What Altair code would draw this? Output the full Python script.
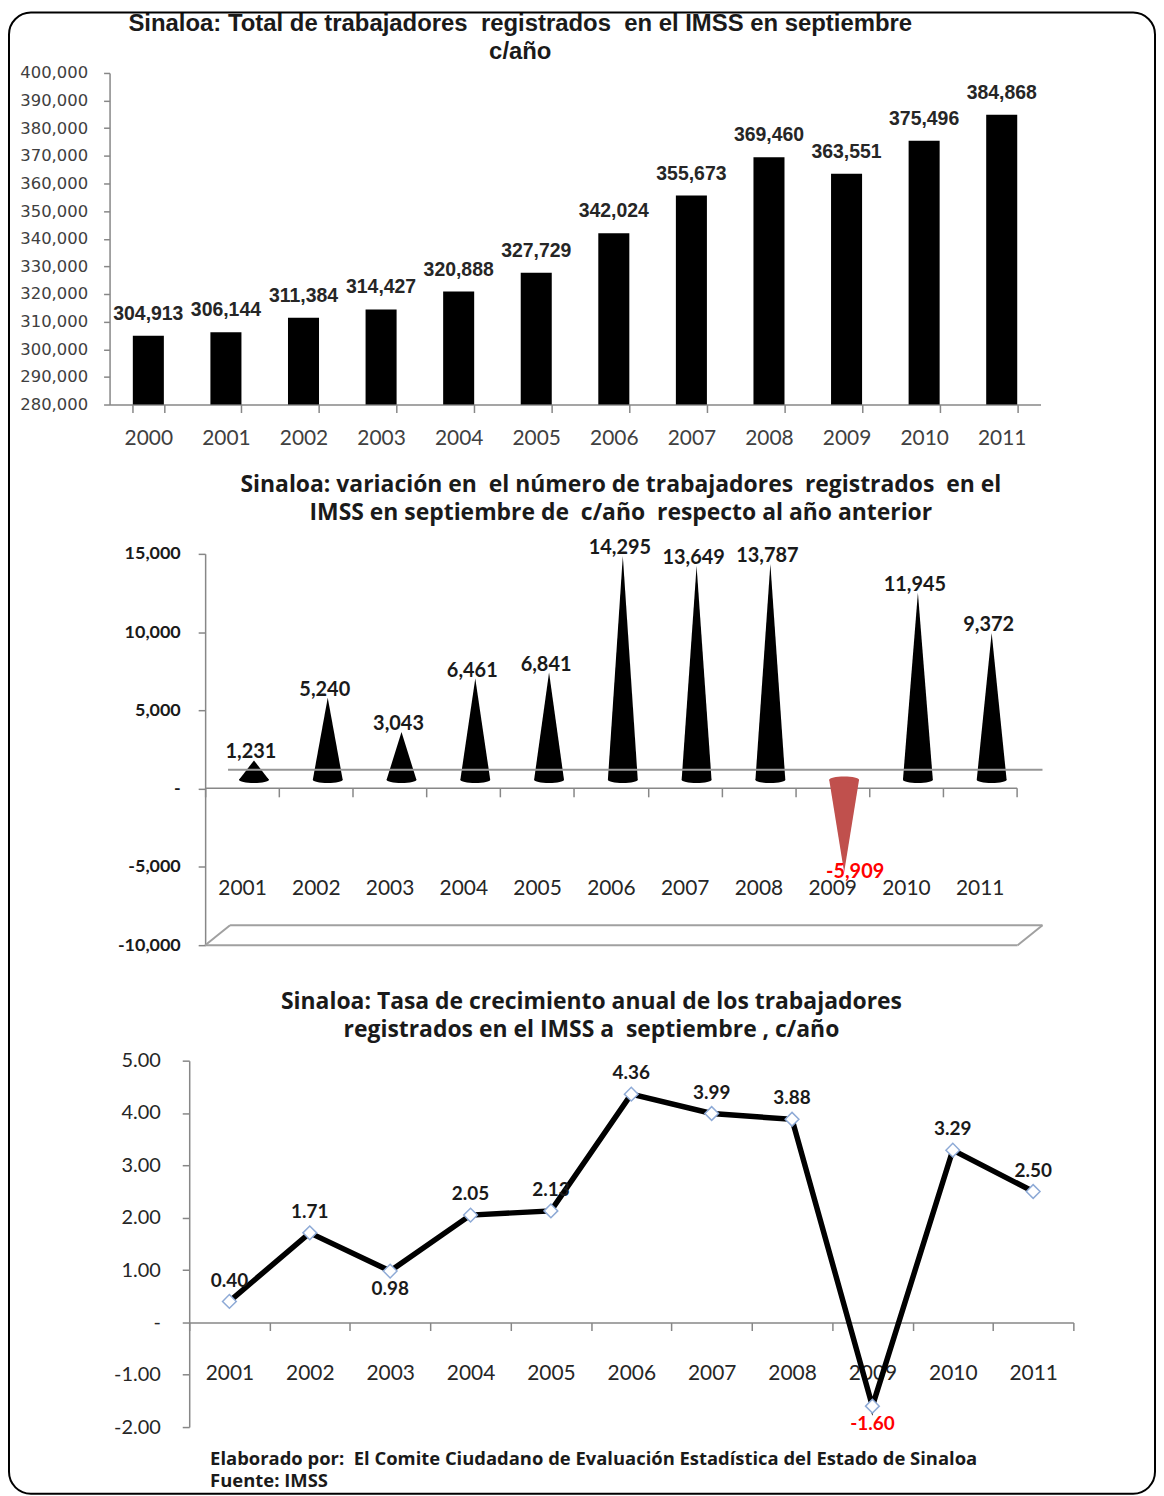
import altair as alt
import pandas as pd

# ---------------- data ----------------
years_total = ["2000", "2001", "2002", "2003", "2004", "2005",
               "2006", "2007", "2008", "2009", "2010", "2011"]
totals = [304913, 306144, 311384, 314427, 320888, 327729,
          342024, 355673, 369460, 363551, 375496, 384868]

years_var = ["2001", "2002", "2003", "2004", "2005", "2006",
             "2007", "2008", "2009", "2010", "2011"]
variation = [1231, 5240, 3043, 6461, 6841, 14295, 13649, 13787, -5909, 11945, 9372]

years_rate = ["2001", "2002", "2003", "2004", "2005", "2006",
              "2007", "2008", "2009", "2010", "2011"]
rates = [0.40, 1.71, 0.98, 2.05, 2.13, 4.36, 3.99, 3.88, -1.60, 3.29, 2.50]

NB = "\u00a0"
title1 = ["Sinaloa: Total de trabajadores " + NB + "registrados " + NB + "en el IMSS en septiembre", "c/año"]
title2 = ["Sinaloa: variación en " + NB + "el número de trabajadores " + NB + "registrados " + NB + "en el",
          "IMSS en septiembre de " + NB + "c/año " + NB + "respecto al año anterior"]
title3 = ["Sinaloa: Tasa de crecimiento anual de los trabajadores",
          "registrados en el IMSS a " + NB + "septiembre , c/año"]
footer1 = "Elaborado por: " + NB + "El Comite Ciudadano de Evaluación Estadística del Estado de Sinaloa"
footer2 = "Fuente: IMSS"

# ---------------- styling ----------------
GRAY = "#878787"
F_ARIAL = "Liberation Sans, Arial, sans-serif"
F_CAL = "Lato, Carlito, Calibri, sans-serif"
F_OPEN = "Open Sans, sans-serif"
F_VERD = "DejaVu Sans, Verdana, sans-serif"
ZERO_DASH = "datum.value == 0 ? '-\u2007' : replace(datum.label, '\u2212', '-')"
ELLIPSE = "M -1 0 A 1 0.22 0 1 0 1 0 A 1 0.22 0 1 0 -1 0 Z"
one = pd.DataFrame({"s": [0]})


def spacer(w, h):
    return alt.Chart(one).mark_point(opacity=0).properties(width=w, height=h)


# ---------------- panel 1 ----------------
W1, H1 = 935, 333
df1 = pd.DataFrame({"year": years_total, "total": totals})
df1["label"] = [f"{v:,}" for v in totals]

x1 = alt.X("year:N", title=None,
           scale=alt.Scale(type="band", paddingInner=0.6, paddingOuter=0.3),
           axis=alt.Axis(labelAngle=0, tickBand="extent", tickSize=8, tickColor=GRAY, tickWidth=1.5,
                         domainColor=GRAY, domainWidth=1.5, labelFont=F_CAL, labelFontSize=21,
                         labelColor="#404040", labelPadding=15))
y1 = alt.Y("total:Q", title=None,
           scale=alt.Scale(domain=[280000, 400000], nice=False, zero=False),
           axis=alt.Axis(values=list(range(280000, 400001, 10000)), format=",d", tickSize=6,
                         tickColor=GRAY, tickWidth=1.5, domainColor=GRAY, domainWidth=1.5,
                         labelFont=F_VERD, labelFontSize=16.5, labelColor="#404040", labelPadding=16))

bars1 = alt.Chart(df1).mark_bar(clip=True, color="#000000").encode(x=x1, y=y1)
lab1 = alt.Chart(df1).mark_text(baseline="bottom", dy=-12, font=F_ARIAL, fontSize=19.5,
                                fontWeight="bold", color="#262626").encode(x=x1, y=y1, text="label:N")
panel1 = alt.layer(bars1, lab1).properties(
    width=W1, height=H1,
    title=alt.TitleParams(text=title1, font=F_ARIAL, fontSize=24, fontWeight="bold", color="#1a1a1a",
                          anchor="middle", frame="group", dx=-55, offset=1, lineHeight=28))

# ---------------- panel 2 ----------------
W2, H2 = 911, 393
R2 = [96, 911]
df2 = pd.DataFrame({"year": years_var, "v": variation})
df2["label"] = [f"{v:,}" for v in variation]
df2["sign"] = ["neg" if v < 0 else "pos" for v in variation]
df2["pos"] = [i + 0.5 for i in range(len(years_var))]

cone_rows = []
for i, (yr, v) in enumerate(zip(years_var, variation)):
    for k in (-1, 0, 1):
        cone_rows.append({"year": yr, "pos": i + 0.5 + 0.2025 * k, "y": v if k == 0 else 0,
                          "base": 0, "sign": "neg" if v < 0 else "pos"})
cones = pd.DataFrame(cone_rows)

y2scale = alt.Scale(domain=[-10000, 15000], nice=False)
y2axis = alt.Axis(values=[-10000, -5000, 0, 5000, 10000, 15000], format=",d", labelExpr=ZERO_DASH,
                  offset=-96, tickSize=7, tickColor=GRAY, tickWidth=1.5, domainColor=GRAY,
                  domainWidth=1.5, labelFont=F_CAL, labelFontSize=18, labelFontWeight="bold",
                  labelColor="#1a1a1a", labelPadding=18)
x2 = alt.X("year:N", title=None,
           scale=alt.Scale(type="band", domain=years_var, range=R2, paddingInner=0, paddingOuter=0),
           axis=alt.Axis(labelAngle=0, tickBand="extent", offset=-158, tickSize=9, tickColor=GRAY,
                         tickWidth=1.5, domainColor=GRAY, domainWidth=1.5, labelFont=F_CAL,
                         labelFontSize=21, labelColor="#262626", labelPadding=81))

lab2p = alt.Chart(df2).transform_filter("datum.v >= 0").mark_text(
    baseline="middle", dx=9, dy=-17, font=F_CAL, fontSize=20, fontWeight="bold", color="#1a1a1a"
).encode(x=x2, y=alt.Y("v:Q", title=None, scale=y2scale, axis=y2axis), text="label:N")
lab2n = alt.Chart(df2).transform_filter("datum.v < 0").mark_text(
    baseline="middle", dx=23, dy=-9, font=F_CAL, fontSize=20, fontWeight="bold", color="#ff0000"
).encode(x=x2, y=alt.Y("v:Q", title=None, scale=y2scale, axis=y2axis), text="label:N")

RC = "#a0a0a0"
wall = alt.Chart(one).mark_rule(color="#969696", strokeWidth=2, yOffset=-19).encode(
    x=alt.value(R2[0] + 23), x2=alt.value(R2[1] + 26), y=alt.datum(0))
floor_front = alt.Chart(one).mark_rule(color=RC, strokeWidth=2).encode(
    x=alt.value(R2[0]), x2=alt.value(R2[1] + 1), y=alt.datum(-10000))
floor_back = alt.Chart(one).mark_rule(color=RC, strokeWidth=2, yOffset=-20).encode(
    x=alt.value(R2[0] + 25), x2=alt.value(R2[1] + 26), y=alt.datum(-10000))
floor_l = alt.Chart(one).mark_rule(color=RC, strokeWidth=2, y2Offset=-20).encode(
    x=alt.value(R2[0]), x2=alt.value(R2[0] + 25), y=alt.datum(-10000), y2=alt.datum(-10000))
floor_r = alt.Chart(one).mark_rule(color=RC, strokeWidth=2, y2Offset=-20).encode(
    x=alt.value(R2[1] + 1), x2=alt.value(R2[1] + 26), y=alt.datum(-10000), y2=alt.datum(-10000))

base2 = alt.layer(floor_front, floor_back, floor_l, floor_r, wall, lab2p, lab2n)

cone_x = alt.X("pos:Q", scale=alt.Scale(domain=[0, 11], range=R2, nice=False, zero=False), axis=None)
cone_color = alt.Color("sign:N", scale=alt.Scale(domain=["pos", "neg"], range=["#000000", "#c0504d"]),
                       legend=None)
cone = alt.Chart(cones).mark_area(orient="vertical", opacity=1, xOffset=12, yOffset=-9,
                                  y2Offset=-9).encode(
    x=cone_x,
    y=alt.Y("y:Q", title=None, scale=y2scale, axis=y2axis),
    y2="base:Q",
    detail="year:N",
    color=cone_color,
)
cone_base = alt.Chart(df2).mark_point(shape=ELLIPSE, filled=True, opacity=1, size=900,
                                      xOffset=12, yOffset=-9).encode(
    x=cone_x,
    y=alt.Y("zero:Q", title=None, scale=y2scale, axis=y2axis),
    color=cone_color,
).transform_calculate(zero="0")

panel2 = alt.layer(alt.layer(cone, cone_base), base2).resolve_scale(x="independent").properties(
    width=W2, height=H2,
    title=alt.TitleParams(text=title2, font=F_OPEN, fontSize=23, fontWeight="bold", color="#1a1a1a",
                          anchor="middle", frame="group", dx=58, offset=13, lineHeight=28))

# ---------------- panel 3 ----------------
W3, H3 = 968, 368
R3 = [80, 968]
df3 = pd.DataFrame({"year": years_rate, "r": rates})
df3["label"] = [f"{v:.2f}" for v in rates]
below = []
for i, v in enumerate(rates):
    interior = 0 < i < len(rates) - 1
    below.append(bool(interior and v < rates[i - 1] and v < rates[i + 1]))
df3["below"] = below
df3["neg"] = [v < 0 for v in rates]

x3 = alt.X("year:N", title=None,
           scale=alt.Scale(type="band", domain=years_rate, range=R3, paddingInner=0, paddingOuter=0),
           axis=alt.Axis(labelAngle=0, tickBand="extent", offset=-105, tickSize=8, tickColor=GRAY,
                         tickWidth=1.5, domainColor=GRAY, domainWidth=1.5, labelFont=F_CAL,
                         labelFontSize=21, labelColor="#262626", labelPadding=32))
y3 = alt.Y("r:Q", title=None, scale=alt.Scale(domain=[-2, 5], nice=False),
           axis=alt.Axis(values=[-2, -1, 0, 1, 2, 3, 4, 5], format=".2f", labelExpr=ZERO_DASH,
                         offset=-80, tickSize=7, tickColor=GRAY, tickWidth=1.5, domainColor=GRAY,
                         domainWidth=1.5, labelFont=F_CAL, labelFontSize=20, labelColor="#262626",
                         labelPadding=22))

line3 = alt.Chart(df3).mark_line(color="#000000", strokeWidth=5.5).encode(x=x3, y=y3)
pts3 = alt.Chart(df3).mark_point(shape="diamond", filled=True, fill="#ffffff", stroke="#8eaad6",
                                 strokeWidth=1.5, size=190, opacity=1).encode(x=x3, y=y3)
lab3a = alt.Chart(df3).transform_filter("!datum.below").mark_text(
    baseline="middle", dy=-21, font=F_CAL, fontSize=19, fontWeight="bold", color="#1a1a1a"
).encode(x=x3, y=y3, text="label:N")
lab3b = alt.Chart(df3).transform_filter("datum.below").mark_text(
    baseline="middle", dy=18, font=F_CAL, fontSize=19, fontWeight="bold"
).encode(x=x3, y=y3, text="label:N",
         color=alt.condition("datum.neg", alt.value("#ff0000"), alt.value("#1a1a1a")))
foot1 = alt.Chart(pd.DataFrame({"t": [footer1]})).mark_text(
    align="left", baseline="middle", font=F_OPEN, fontSize=18.5, fontWeight="bold", color="#1a1a1a"
).encode(x=alt.value(101), y=alt.value(400), text="t:N")
foot2 = alt.Chart(pd.DataFrame({"t": [footer2]})).mark_text(
    align="left", baseline="middle", font=F_OPEN, fontSize=18.5, fontWeight="bold", color="#1a1a1a"
).encode(x=alt.value(101), y=alt.value(422), text="t:N")

panel3 = alt.layer(line3, pts3, lab3a, lab3b, foot1, foot2).properties(
    width=W3, height=H3,
    title=alt.TitleParams(text=title3, font=F_OPEN, fontSize=23, fontWeight="bold", color="#1a1a1a",
                          anchor="middle", frame="group", dx=0, offset=9, lineHeight=28))

# ---------------- layout ----------------
border = alt.Chart(one).mark_rect(fill="#ffffff", fillOpacity=0, stroke="#000000", strokeWidth=2,
                                  cornerRadius=22).encode(
    x=alt.value(-101), x2=alt.value(1050), y=alt.value(-393.7), y2=alt.value(1094))
gap1 = alt.layer(spacer(1, 150), border).properties(width=1, height=150)
gap2 = spacer(1, 116)

chart = alt.vconcat(panel1, gap1, panel2, gap2, panel3, spacing=0, bounds="flush").properties(
    padding=0, background="#ffffff"
).configure_view(stroke=None).configure_axis(grid=False)

chart.save("out.html", embed_options={"renderer": "svg", "actions": False})
